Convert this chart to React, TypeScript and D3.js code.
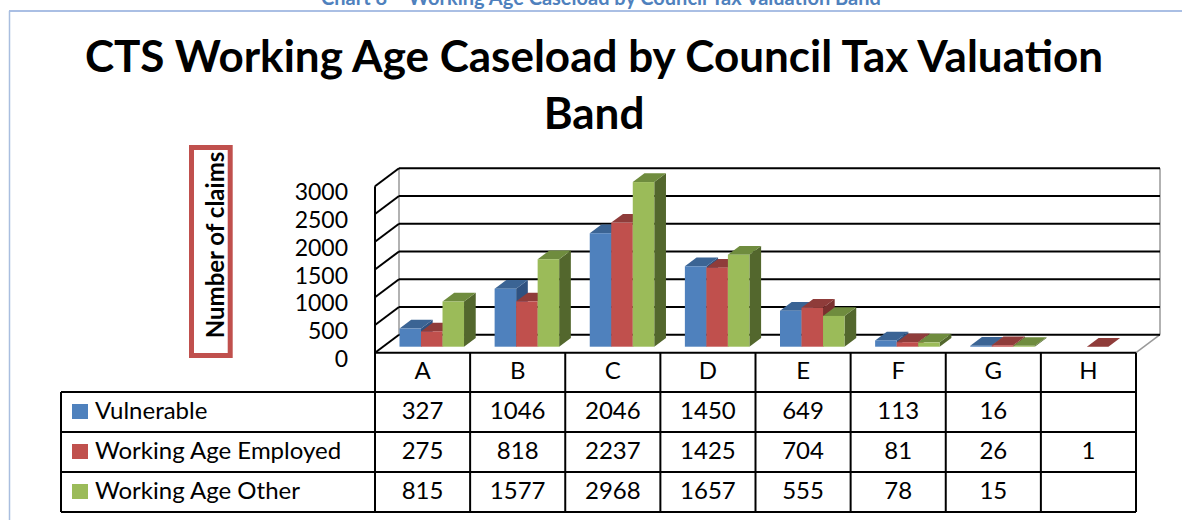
import React from 'react';
import * as d3 from 'd3';

const categories = ['A', 'B', 'C', 'D', 'E', 'F', 'G', 'H'];
const seriesNames = ['Vulnerable', 'Working Age Employed', 'Working Age Other'];
const vulnerable: (number | null)[] = [327, 1046, 2046, 1450, 649, 113, 16, null];
const employed: (number | null)[] = [275, 818, 2237, 1425, 704, 81, 26, 1];
const other: (number | null)[] = [815, 1577, 2968, 1657, 555, 78, 15, null];
const yTicks = [0, 500, 1000, 1500, 2000, 2500, 3000];

const seriesValues = [vulnerable, employed, other];
const front = ['#4F81BD', '#C0504D', '#9BBB59'];
const topC = ['#3B6494', '#8F3C3A', '#6F8C3E'];
const sideC = ['#2F5281', '#7A302E', '#53672D'];

const FONT = "Lato, 'Open Sans', sans-serif";

export default function App() {
  const x0 = 375;
  const x1 = 1136;
  const floorY = 352.7;
  const D = { dx: 24, dy: -18 };
  const y = d3.scaleLinear().domain([0, 3000]).range([0, 166.4]);
  const xBand = d3.scaleBand<string>().domain(categories).range([x0, x1]).padding(0);
  const bw = xBand.bandwidth();
  const inner = d3.scaleBand<string>().domain(seriesNames).range([15.3, bw - 15.3]).padding(0);
  const frontDx = 9.2;
  const frontDy = -6;
  const barD = { dx: 11.7, dy: -8.7 };
  const barBottom = floorY + frontDy;

  const bars: React.ReactNode[] = [];
  categories.forEach((c, ci) => {
    seriesNames.forEach((s, si) => {
      const v = seriesValues[si][ci];
      if (v === null || v === undefined) return;
      const bx = (xBand(c) as number) + frontDx + (inner(s) as number);
      const w = inner.bandwidth();
      const h = y(v);
      const yt = barBottom - h;
      const topPts = [
        [bx, yt], [bx + barD.dx, yt + barD.dy], [bx + w + barD.dx, yt + barD.dy], [bx + w, yt],
      ].map((p) => p.join(',')).join(' ');
      const sidePts = [
        [bx + w, yt], [bx + w + barD.dx, yt + barD.dy], [bx + w + barD.dx, barBottom + barD.dy], [bx + w, barBottom],
      ].map((p) => p.join(',')).join(' ');
      bars.push(
        <g key={`${c}-${s}`}>
          <polygon points={sidePts} fill={sideC[si]} />
          <polygon points={topPts} fill={topC[si]} />
          <rect x={bx} y={yt} width={w} height={h} fill={front[si]} />
        </g>
      );
    });
  });

  const rowTop = [352.7, 392, 432, 472, 512];
  const legendLeft = 61;

  return (
    <svg width={1182} height={520} style={{ position: 'absolute', left: 0, top: 0, background: '#fff' }}>
      {/* page header (cut off in the source as well) */}
      <text x={601} y={4.5} textAnchor="middle" fontFamily={FONT} fontWeight="bold" fontSize={20} fill="#4F81BD">
        Chart 8 – Working Age Caseload by Council Tax Valuation Band
      </text>
      <line x1={9} x2={1182} y1={11} y2={11} stroke="#8EAADB" strokeWidth={1.5} />
      <line x1={9.5} x2={9.5} y1={11} y2={520} stroke="#A9BEDF" strokeWidth={1.5} />

      {/* title */}
      <text x={594} y={72} textAnchor="middle" fontFamily={FONT} fontWeight="bold" fontSize={44} fill="#000">
        CTS Working Age Caseload by Council Tax Valuation
      </text>
      <text x={594} y={129} textAnchor="middle" fontFamily={FONT} fontWeight="bold" fontSize={44} fill="#000">
        Band
      </text>

      {/* axis title box */}
      <rect x={191.5} y={147.5} width={38.7} height={208} fill="none" stroke="#C0504D" strokeWidth={5} />
      <text transform="translate(223.5,245) rotate(-90)" textAnchor="middle" fontFamily={FONT} fontWeight="bold" fontSize={24} fill="#000">
        Number of claims
      </text>

      {/* walls */}
      <line x1={x0 + D.dx} x2={x0 + D.dx} y1={floorY + D.dy} y2={floorY + D.dy - y(3000)} stroke="#999" strokeWidth={1.5} />
      <line x1={x1 + D.dx} x2={x1 + D.dx} y1={floorY + D.dy} y2={floorY + D.dy - y(3000)} stroke="#999" strokeWidth={1.5} />
      <line x1={x1} x2={x1 + D.dx} y1={floorY} y2={floorY + D.dy} stroke="#999" strokeWidth={1.5} />
      {yTicks.map((t) => (
        <g key={t}>
          <line x1={x0 + D.dx} x2={x1 + D.dx} y1={floorY + D.dy - y(t)} y2={floorY + D.dy - y(t)} stroke="#000" strokeWidth={2} />
          <line x1={x0} x2={x0 + D.dx} y1={floorY - y(t)} y2={floorY + D.dy - y(t)} stroke="#000" strokeWidth={2} />
          <text x={348} y={floorY - y(t) + 14} textAnchor="end" fontFamily={FONT} fontSize={23} fill="#000">
            {t}
          </text>
        </g>
      ))}
      <line x1={x0} x2={x0} y1={floorY - y(3000)} y2={512} stroke="#000" strokeWidth={2} />

      {/* bars */}
      {bars}

      {/* data table */}
      <g stroke="#000" strokeWidth={2} fill="none">
        <line x1={x0} x2={x1} y1={rowTop[0]} y2={rowTop[0]} />
        {rowTop.slice(1).map((ry) => (
          <line key={ry} x1={legendLeft} x2={x1} y1={ry} y2={ry} />
        ))}
        <line x1={legendLeft} x2={legendLeft} y1={rowTop[1]} y2={rowTop[4]} />
        {categories.map((c) => (
          <line key={c} x1={(xBand(c) as number) + bw} x2={(xBand(c) as number) + bw} y1={rowTop[0]} y2={rowTop[4]} />
        ))}
      </g>
      {categories.map((c) => (
        <text key={c} x={(xBand(c) as number) + bw / 2} y={rowTop[0] + 26} textAnchor="middle" fontFamily={FONT} fontSize={24} fill="#000">
          {c}
        </text>
      ))}
      {seriesNames.map((s, si) => (
        <g key={s}>
          <rect x={72} y={rowTop[si + 1] + 12} width={16} height={15} fill={front[si]} />
          <text x={95} y={rowTop[si + 1] + 27} fontFamily={FONT} fontSize={24} fill="#000">
            {s}
          </text>
          {categories.map((c, ci) => {
            const v = seriesValues[si][ci];
            return v === null ? null : (
              <text key={c} x={(xBand(c) as number) + bw / 2} y={rowTop[si + 1] + 27} textAnchor="middle" fontFamily={FONT} fontSize={24} fill="#000">
                {v}
              </text>
            );
          })}
        </g>
      ))}
    </svg>
  );
}
